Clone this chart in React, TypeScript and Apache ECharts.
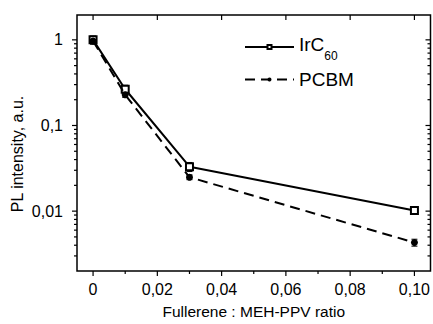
import React, { useEffect, useRef } from "react";
import * as echarts from "echarts";

const X_MIN = -0.005;
const X_MAX = 0.105;
const Y_MIN = 0.002;
const Y_MAX = 1.95;

const ratios = [0, 0.01, 0.03, 0.1];
const ircValues = [1.0, 0.265, 0.033, 0.0102];
const ircErrors = [0.11, 0.03, 0.004, 0.0009];
const pcbmValues = [0.97, 0.228, 0.0249, 0.0043];
const pcbmErrors = [0.07, 0.015, 0.0016, 0.0004];

const xMajorTicks = [0, 0.02, 0.04, 0.06, 0.08, 0.1];
const xMinorTicks = [0.01, 0.03, 0.05, 0.07, 0.09];
const yMajorTicks = [0.01, 0.1, 1];
const yMinorTicks = [
  0.003, 0.004, 0.005, 0.006, 0.007, 0.008, 0.009,
  0.02, 0.03, 0.04, 0.05, 0.06, 0.07, 0.08, 0.09,
  0.2, 0.3, 0.4, 0.5, 0.6, 0.7, 0.8, 0.9,
];

const FONT = "'Liberation Sans', Arial, Helvetica, sans-serif";

export default function App() {
  const ref = useRef<HTMLDivElement>(null);
  useEffect(() => {
    if (!ref.current) return;
    const chart = echarts.init(ref.current, null, { renderer: "svg" });

    // tick data: [x, y, side, length]  side: 0 left(out), 1 right(in), 2 bottom(out), 3 top(in)
    const tickData: number[][] = [];
    yMajorTicks.forEach((v) => {
      tickData.push([X_MIN, v, 0, 5]);
      tickData.push([X_MAX, v, 1, 5]);
    });
    yMinorTicks.forEach((v) => {
      tickData.push([X_MIN, v, 0, 3]);
      tickData.push([X_MAX, v, 1, 3]);
    });
    xMajorTicks.forEach((v) => {
      tickData.push([v, Y_MIN, 2, 5]);
      tickData.push([v, Y_MAX, 3, 5]);
    });
    xMinorTicks.forEach((v) => {
      tickData.push([v, Y_MIN, 2, 3]);
    });

    const errData = (vals: number[], errs: number[]) =>
      ratios.map((x, i) => [x, vals[i] - errs[i], vals[i] + errs[i]]);

    const errRender = (params: any, api: any) => {
      const x = api.value(0);
      const lo = api.coord([x, api.value(1)]);
      const hi = api.coord([x, api.value(2)]);
      const w = 3;
      const style = { stroke: "#000", lineWidth: 1 };
      return {
        type: "group",
        children: [
          { type: "line", shape: { x1: lo[0], y1: lo[1], x2: hi[0], y2: hi[1] }, style },
          { type: "line", shape: { x1: hi[0] - w, y1: hi[1], x2: hi[0] + w, y2: hi[1] }, style },
          { type: "line", shape: { x1: lo[0] - w, y1: lo[1], x2: lo[0] + w, y2: lo[1] }, style },
        ],
      };
    };

    const tickRender = (params: any, api: any) => {
      const p = api.coord([api.value(0), api.value(1)]);
      const side = api.value(2);
      const len = api.value(3);
      let shape;
      if (side === 0) shape = { x1: p[0] - len, y1: p[1], x2: p[0], y2: p[1] };
      else if (side === 1) shape = { x1: p[0] - len, y1: p[1], x2: p[0], y2: p[1] };
      else if (side === 2) shape = { x1: p[0], y1: p[1], x2: p[0], y2: p[1] + len };
      else shape = { x1: p[0], y1: p[1], x2: p[0], y2: p[1] + len };
      return { type: "line", shape, style: { stroke: "#000", lineWidth: 1.2 } };
    };

    const fmtX = (v: number) => {
      const k = Math.round(v / 0.02);
      if (Math.abs(v - k * 0.02) > 1e-6) return "";
      if (k === 0) return "0";
      return (k * 0.02).toFixed(2).replace(".", ",");
    };
    const fmtY = (v: number) => {
      const l = Math.log10(v);
      const r = Math.round(l);
      if (Math.abs(l - r) > 1e-6) return "";
      if (r >= 0) return String(Math.pow(10, r));
      return Math.pow(10, r).toFixed(-r).replace(".", ",");
    };

    const legendBase = {
      orient: "vertical",
      itemWidth: 49,
      itemHeight: 5,
      padding: 0,
      textStyle: { fontFamily: FONT, fontSize: 19, color: "#000" },
      selectedMode: false,
    };

    chart.setOption({
      animation: false,
      grid: {
        left: 77,
        top: 15,
        right: 2,
        bottom: 52,
        show: true,
        borderColor: "#000",
        borderWidth: 1.5,
        backgroundColor: "transparent",
      },
      legend: [
        {
          ...legendBase,
          data: ["IrC60"],
          left: 244,
          top: 35,
          formatter: () => "{a|IrC}{b|60}",
          textStyle: {
            fontFamily: FONT,
            color: "#000",
            rich: {
              a: { fontFamily: FONT, fontSize: 19, color: "#000", lineHeight: 24, verticalAlign: "top" },
              b: { fontFamily: FONT, fontSize: 12, color: "#000", lineHeight: 12, padding: [15, 0, 0, 0], verticalAlign: "top" },
            },
          },
        },
        {
          ...legendBase,
          data: ["PCBM"],
          left: 244,
          top: 70,
        },
      ],
      xAxis: {
        type: "value",
        min: X_MIN,
        max: X_MAX,
        axisLine: { show: false },
        axisTick: { show: false },
        splitLine: { show: false },
        axisLabel: {
          formatter: fmtX,
          fontFamily: FONT,
          fontSize: 16,
          color: "#000",
          margin: 10,
          showMinLabel: false,
          showMaxLabel: false,
        },
        name: "Fullerene : MEH-PPV ratio",
        nameLocation: "middle",
        nameGap: 32,
        nameTextStyle: { fontFamily: FONT, fontSize: 15.5, color: "#000" },
      },
      yAxis: {
        type: "log",
        logBase: 10,
        min: Y_MIN,
        max: Y_MAX,
        axisLine: { show: false },
        axisTick: { show: false },
        splitLine: { show: false },
        minorTick: { show: false },
        axisLabel: {
          formatter: fmtY,
          fontFamily: FONT,
          fontSize: 16,
          color: "#000",
          margin: 14,
          showMinLabel: false,
          showMaxLabel: false,
        },
      },
      graphic: [
        {
          type: "text",
          x: 17,
          y: 154,
          rotation: Math.PI / 2,
          style: {
            text: "PL intensity, a.u.",
            fontFamily: FONT,
            fontSize: 16,
            fill: "#000",
            textAlign: "center",
            textVerticalAlign: "middle",
          },
        },
      ],
      series: [
        {
          type: "custom",
          name: "ticks",
          data: tickData,
          encode: { x: 0, y: 1 },
          renderItem: tickRender,
          clip: false,
          silent: true,
          z: 10,
        },
        {
          type: "custom",
          name: "errIrc",
          data: errData(ircValues, ircErrors),
          encode: { x: 0, y: [1, 2] },
          renderItem: errRender,
          silent: true,
          z: 3,
        },
        {
          type: "custom",
          name: "errPcbm",
          data: errData(pcbmValues, pcbmErrors),
          encode: { x: 0, y: [1, 2] },
          renderItem: errRender,
          silent: true,
          z: 3,
        },
        {
          type: "line",
          name: "IrC60",
          data: ratios.map((x, i) => [x, ircValues[i]]),
          symbol: "emptyRect",
          symbolSize: 7,
          lineStyle: { color: "#000", width: 2 },
          itemStyle: { color: "#000", borderWidth: 1 },
          z: 4,
        },
        {
          type: "line",
          name: "PCBM",
          data: ratios.map((x, i) => [x, pcbmValues[i]]),
          symbol: "circle",
          symbolSize: 7,
          lineStyle: { color: "#000", width: 2, type: [10, 6] },
          itemStyle: { color: "#000" },
          z: 5,
        },
      ],
    });
    return () => chart.dispose();
  }, []);
  return (
    <div
      ref={ref}
      style={{ position: "fixed", left: 0, top: 0, width: 433, height: 324, background: "#fff" }}
    />
  );
}
